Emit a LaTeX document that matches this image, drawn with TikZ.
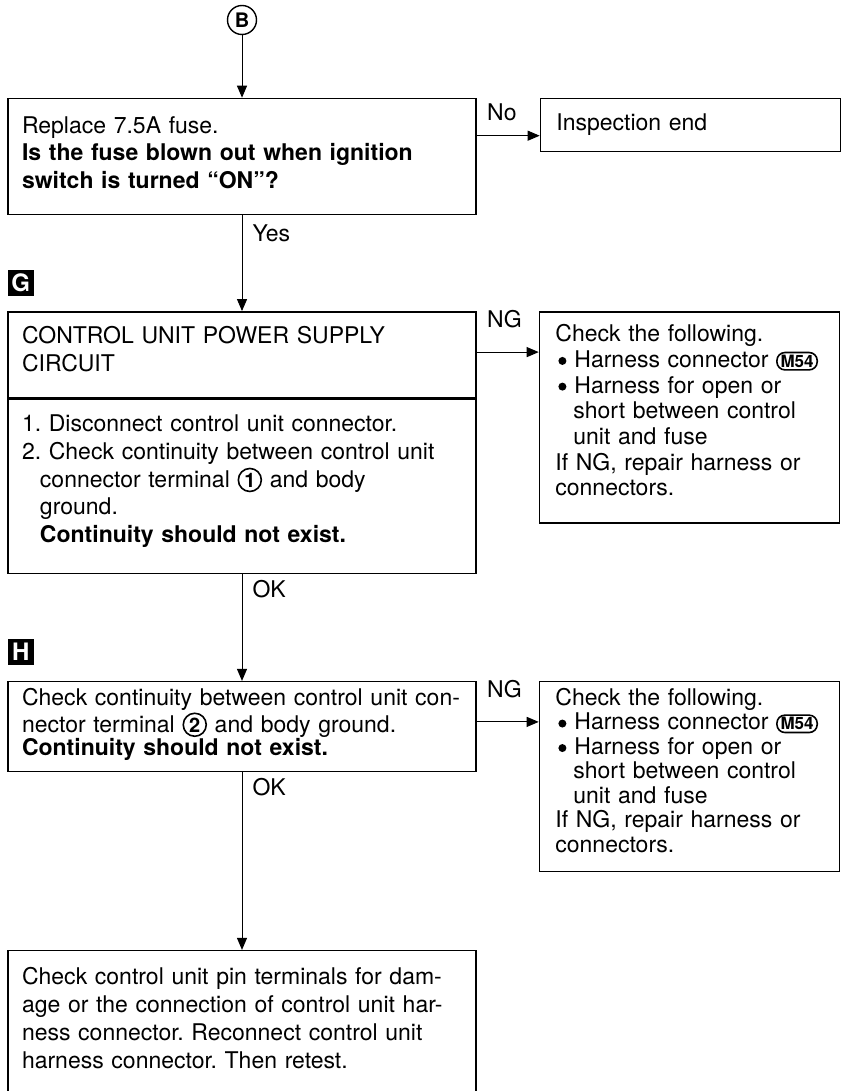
\documentclass[tikz,border=0pt]{standalone}
\usepackage{fontspec}
\setmainfont{TeX Gyre Heros}
\usetikzlibrary{positioning, arrows.meta}

\newcommand{\lead}[1]{\fontsize{11.5}{#1}\selectfont\frenchspacing}
\newcommand{\ind}{\hspace*{9pt}}
\newcommand{\bul}{\hspace*{1.5pt}\tikz[baseline=0pt]\fill (0pt,3.2pt) circle (2pt);\hspace{4pt}}
\newcommand{\padb}[1]{\par\vskip#1\nointerlineskip\hbox{}}
\newcommand{\cnum}[1]{\tikz[baseline=(cn.base)]\node[circle, draw, line width=0.8pt, inner sep=0.5pt, minimum size=11.5pt, text width={}, font=\fontsize{10}{10}\selectfont\bfseries] (cn) {#1};}
\newcommand{\mconn}{\tikz[baseline=(mc.base)]\node[rectangle, draw, rounded corners=4pt, line width=0.8pt, inner xsep=1.8pt, inner ysep=1.2pt, minimum size=0pt, text width={}, font=\fontsize{8.5}{8.5}\selectfont\bfseries] (mc) {M54};}

\begin{document}
\begin{tikzpicture}[
        % Style definitions
        block/.style={
            rectangle,
            draw=black,
            line width=0.7pt,
            align=left,
            inner xsep=7pt,
            font=\lead{13.5pt}
        },
        mainbox/.style={block, text width=220pt, minimum height=#1},
        sidebox/.style={block, text width=134pt, inner xsep=8pt, minimum height=#1},
        arrow/.style={
            -{Triangle[length=6pt, width=5pt]},
            line width=0.5pt
        },
        lbl/.style={font=\lead{13.5pt}, inner xsep=5pt, inner ysep=3pt},
        tagbox/.style={rectangle, fill=black, text=white, minimum size=13pt,
            inner sep=0pt, font=\bfseries\fontsize{12}{12}\selectfont}
    ]
        \useasboundingbox (0pt,0pt) rectangle (424.5pt,-545.5pt);

        % ==========================================
        % Nodes / Blocks Placement
        % ==========================================
        % Entry point from the previous page
        \node (bpt) at (121pt,-10pt) [circle, draw, line width=0.7pt, minimum size=14.5pt,
            inner sep=0pt, font=\bfseries\fontsize{10}{10}\selectfont] {B};

        % Fuse check and its exit
        \node (fuse) [mainbox=58pt, font=\lead{13.75pt}, below=31.25pt of bpt] {Replace 7.5A fuse.\\
            \textbf{Is the fuse blown out when ignition}\\
            \textbf{switch is turned “ON”?}\padb{4pt}};
        \node (endbox) [sidebox=26.5pt, right=31.5pt of fuse.north east, anchor=north west] {Inspection end};

        % Step G: power supply circuit (header + body)
        \node (pwrhd) [mainbox=43pt, font=\lead{14pt}, below=48pt of fuse] {CONTROL UNIT POWER SUPPLY\\CIRCUIT\padb{6pt}};
        \node (pwrbody) [mainbox=87pt, font=\lead{13.9pt}, below=0pt of pwrhd] {1. Disconnect control unit connector.\\
            2. Check continuity between control unit\\
            \ind connector terminal \cnum{1} and body\\
            \ind ground.\\
            \ind\textbf{Continuity should not exist.}\padb{5pt}};
        \node (chk1) [sidebox=105.5pt, font=\lead{12.85pt}, right=31pt of pwrhd.north east, anchor=north west] {Check the following.\\
            \bul Harness connector \mconn\\
            \bul Harness for open or\\
            \ind short between control\\
            \ind unit and fuse\\
            If NG, repair harness or\\
            connectors.\padb{7pt}};
        \node (tagG) [tagbox, above right=7.5pt and 0pt of pwrhd.north west] {G};

        % Step H: terminal 2
        \node (term2) [mainbox=44.5pt, font=\lead{11.75pt}, below=53.5pt of pwrbody] {Check continuity between control unit con-\\
            nector terminal \cnum{2} and body ground.\\
            \textbf{Continuity should not exist.}\padb{2pt}};
        \node (chk2) [sidebox=94pt, font=\lead{12.25pt}, right=31pt of term2.north east, anchor=north west] {Check the following.\\
            \bul Harness connector \mconn\\
            \bul Harness for open or\\
            \ind short between control\\
            \ind unit and fuse\\
            If NG, repair harness or\\
            connectors.\padb{6pt}};
        \node (tagH) [tagbox, above right=8pt and 0pt of term2.north west] {H};

        % Final step
        \node (retest) [mainbox=72pt, font=\lead{14pt}, below=89pt of term2] {Check control unit pin terminals for dam-\\
            age or the connection of control unit har-\\
            ness connector. Reconnect control unit\\
            harness connector. Then retest.\padb{5pt}};

        % ==========================================
        % Connections / Arrows
        % ==========================================
        \draw [arrow] (bpt) -- (fuse);

        \coordinate (noY) at ([yshift=-19pt]fuse.north east);
        \draw [arrow] (noY) -- node[lbl, pos=0, above right, yshift=4.4pt] {No} (noY -| endbox.west);

        \draw [arrow] (fuse) -- node[lbl, pos=0, below right, yshift=-1.4pt] {Yes} (pwrhd);

        \coordinate (ng1) at ([yshift=-20.5pt]pwrhd.north east);
        \draw [arrow] (ng1) -- node[lbl, pos=0, above right, yshift=8.9pt] {NG} (ng1 -| chk1.west);

        \draw [arrow] (pwrbody) -- node[lbl, pos=0, below right] {OK} (term2);

        \coordinate (ng2) at ([yshift=-20.5pt]term2.north east);
        \draw [arrow] (ng2) -- node[lbl, pos=0, above right, yshift=8.9pt] {NG} (ng2 -| chk2.west);

        \draw [arrow] (term2) -- node[lbl, pos=0, below right] {OK} (retest);

    \end{tikzpicture}
\end{document}
